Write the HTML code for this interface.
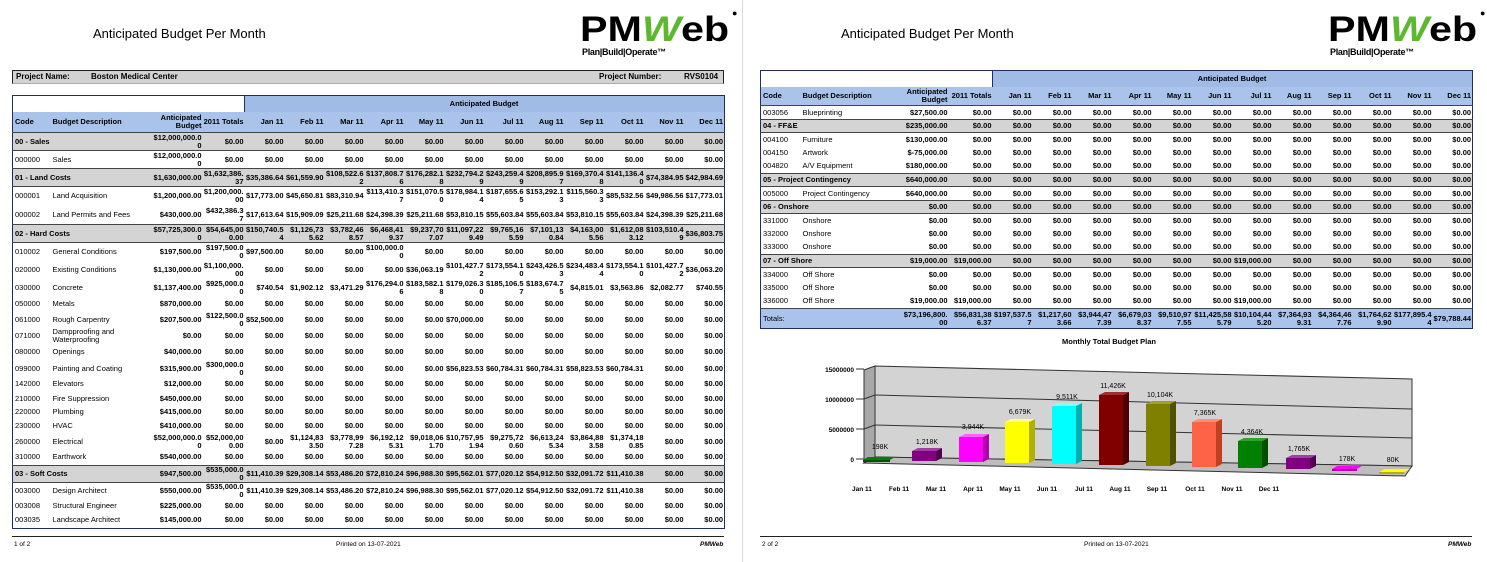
<!DOCTYPE html>
<html><head><meta charset="utf-8">
<style>
*{margin:0;padding:0;box-sizing:border-box}
body{width:1487px;height:562px;background:#fff;position:relative;overflow:hidden;font-family:"Liberation Sans",Arial,sans-serif;color:#000}
.abs{position:absolute;white-space:nowrap}
.title{font-size:13px;top:26px}
.logo{position:absolute;top:8px;width:160px;height:52px}
.logo .big{position:absolute;left:0;top:3px;font:bold 35px/38px "Liberation Sans",sans-serif;letter-spacing:0px;transform:scaleX(1.18);transform-origin:0 0}
.logo .big .w{color:#5cb82e;font-style:italic}
.logo .sub{position:absolute;left:2px;top:39px;font:bold 9px "Liberation Sans",sans-serif;letter-spacing:-0.3px}
.logo .reg{position:absolute;left:152px;top:0;font-size:9px}
.t{position:absolute;border-collapse:collapse;table-layout:fixed;font:bold 7.5px/8px "Liberation Sans",sans-serif;border:1.5px solid #1f2e5e}
.t td{padding:0 1px 0 0;text-align:right;vertical-align:middle;overflow:hidden;word-break:break-all}
.t td.c{text-align:left;font-weight:normal;padding-left:2px}
.t td.d{text-align:left;font-weight:normal;padding-left:2px;word-break:normal}
.t td.l{text-align:left;padding-left:2px;word-break:normal}
.g td{background:#d4d4d4;border-top:1px solid #444;border-bottom:1px solid #444}
.h td{background:#a9c3eb;border-bottom:1px solid #444;word-break:normal}
.hb td.b{background:#a0bbe6;text-align:center;border-left:1px solid #1f2e5e}
.tot td{background:#a9c3eb;border-top:1px solid #444}
.foot{font-size:6.5px;top:541px}
.proj{position:absolute;left:12px;top:70px;width:712px;height:14px;background:#d2d2d2;border:1px solid #222;border-bottom:1px solid #aaa;font:bold 8px/12px "Liberation Sans",sans-serif}
</style></head><body>

<div class="abs title" style="left:93px">Anticipated Budget Per Month</div>
<div class="abs title" style="left:841px">Anticipated Budget Per Month</div>

<div class="logo" style="left:580px"><div class="big">PM<span class="w">W</span>eb</div><div class="sub">Plan|Build|Operate™</div><div class="reg">●</div></div>
<div class="logo" style="left:1328px"><div class="big">PM<span class="w">W</span>eb</div><div class="sub">Plan|Build|Operate™</div><div class="reg">●</div></div>

<div style="position:absolute;left:742px;top:0;width:1px;height:562px;background:#d8d8d8"></div>

<div class="proj"><span class="abs" style="left:3px">Project Name:</span><span class="abs" style="left:78px">Boston Medical Center</span><span class="abs" style="left:586px">Project Number:</span><span class="abs" style="left:671px">RVS0104</span></div>

<table class="t" style="left:12px;top:95px;width:712px">
<colgroup><col style="width:38px"><col style="width:100px"><col style="width:52px"><col style="width:42px"><col span="12" style="width:40px"></colgroup>
<tr class="hb" style="height:16px"><td colspan="4" style="background:#fff"></td><td colspan="12" class="b">Anticipated Budget</td></tr>
<tr class="h" style="height:21px"><td class="l">Code</td><td class="l">Budget Description</td><td>Anticipated Budget</td><td>2011 Totals</td><td>Jan 11</td><td>Feb 11</td><td>Mar 11</td><td>Apr 11</td><td>May 11</td><td>Jun 11</td><td>Jul 11</td><td>Aug 11</td><td>Sep 11</td><td>Oct 11</td><td>Nov 11</td><td>Dec 11</td></tr>
<tr class="g" style="height:18px"><td colspan="2" class="l">00 - Sales</td><td>$12,000,000.00</td><td>$0.00</td><td>$0.00</td><td>$0.00</td><td>$0.00</td><td>$0.00</td><td>$0.00</td><td>$0.00</td><td>$0.00</td><td>$0.00</td><td>$0.00</td><td>$0.00</td><td>$0.00</td><td>$0.00</td></tr>
<tr style="height:18px"><td class="c">000000</td><td class="d">Sales</td><td>$12,000,000.00</td><td>$0.00</td><td>$0.00</td><td>$0.00</td><td>$0.00</td><td>$0.00</td><td>$0.00</td><td>$0.00</td><td>$0.00</td><td>$0.00</td><td>$0.00</td><td>$0.00</td><td>$0.00</td><td>$0.00</td></tr>
<tr class="g" style="height:18px"><td colspan="2" class="l">01 - Land Costs</td><td>$1,630,000.00</td><td>$1,632,386.37</td><td>$35,386.64</td><td>$61,559.90</td><td>$108,522.62</td><td>$137,808.76</td><td>$176,282.18</td><td>$232,794.29</td><td>$243,259.49</td><td>$208,895.97</td><td>$169,370.48</td><td>$141,136.40</td><td>$74,384.95</td><td>$42,984.69</td></tr>
<tr style="height:19px"><td class="c">000001</td><td class="d">Land Acquisition</td><td>$1,200,000.00</td><td>$1,200,000.00</td><td>$17,773.00</td><td>$45,650.81</td><td>$83,310.94</td><td>$113,410.37</td><td>$151,070.50</td><td>$178,984.14</td><td>$187,655.65</td><td>$153,292.13</td><td>$115,560.33</td><td>$85,532.56</td><td>$49,986.56</td><td>$17,773.01</td></tr>
<tr style="height:19px"><td class="c">000002</td><td class="d">Land Permits and Fees</td><td>$430,000.00</td><td>$432,386.37</td><td>$17,613.64</td><td>$15,909.09</td><td>$25,211.68</td><td>$24,398.39</td><td>$25,211.68</td><td>$53,810.15</td><td>$55,603.84</td><td>$55,603.84</td><td>$53,810.15</td><td>$55,603.84</td><td>$24,398.39</td><td>$25,211.68</td></tr>
<tr class="g" style="height:18px"><td colspan="2" class="l">02 - Hard Costs</td><td>$57,725,300.00</td><td>$54,645,000.00</td><td>$150,740.54</td><td>$1,126,735.62</td><td>$3,782,468.57</td><td>$6,468,419.37</td><td>$9,237,707.07</td><td>$11,097,229.49</td><td>$9,765,165.59</td><td>$7,101,130.84</td><td>$4,163,005.56</td><td>$1,612,083.12</td><td>$103,510.49</td><td>$36,803.75</td></tr>
<tr style="height:18px"><td class="c">010002</td><td class="d">General Conditions</td><td>$197,500.00</td><td>$197,500.00</td><td>$97,500.00</td><td>$0.00</td><td>$0.00</td><td>$100,000.00</td><td>$0.00</td><td>$0.00</td><td>$0.00</td><td>$0.00</td><td>$0.00</td><td>$0.00</td><td>$0.00</td><td>$0.00</td></tr>
<tr style="height:19px"><td class="c">020000</td><td class="d">Existing Conditions</td><td>$1,130,000.00</td><td>$1,100,000.00</td><td>$0.00</td><td>$0.00</td><td>$0.00</td><td>$0.00</td><td>$36,063.19</td><td>$101,427.72</td><td>$173,554.10</td><td>$243,426.53</td><td>$234,483.44</td><td>$173,554.10</td><td>$101,427.72</td><td>$36,063.20</td></tr>
<tr style="height:17px"><td class="c">030000</td><td class="d">Concrete</td><td>$1,137,400.00</td><td>$925,000.00</td><td>$740.54</td><td>$1,902.12</td><td>$3,471.29</td><td>$176,294.06</td><td>$183,582.18</td><td>$179,026.30</td><td>$185,106.57</td><td>$183,674.75</td><td>$4,815.01</td><td>$3,563.86</td><td>$2,082.77</td><td>$740.55</td></tr>
<tr style="height:15px"><td class="c">050000</td><td class="d">Metals</td><td>$870,000.00</td><td>$0.00</td><td>$0.00</td><td>$0.00</td><td>$0.00</td><td>$0.00</td><td>$0.00</td><td>$0.00</td><td>$0.00</td><td>$0.00</td><td>$0.00</td><td>$0.00</td><td>$0.00</td><td>$0.00</td></tr>
<tr style="height:15px"><td class="c">061000</td><td class="d">Rough Carpentry</td><td>$207,500.00</td><td>$122,500.00</td><td>$52,500.00</td><td>$0.00</td><td>$0.00</td><td>$0.00</td><td>$0.00</td><td>$70,000.00</td><td>$0.00</td><td>$0.00</td><td>$0.00</td><td>$0.00</td><td>$0.00</td><td>$0.00</td></tr>
<tr style="height:16px"><td class="c">071000</td><td class="d">Dampproofing and Waterproofing</td><td>$0.00</td><td>$0.00</td><td>$0.00</td><td>$0.00</td><td>$0.00</td><td>$0.00</td><td>$0.00</td><td>$0.00</td><td>$0.00</td><td>$0.00</td><td>$0.00</td><td>$0.00</td><td>$0.00</td><td>$0.00</td></tr>
<tr style="height:17px"><td class="c">080000</td><td class="d">Openings</td><td>$40,000.00</td><td>$0.00</td><td>$0.00</td><td>$0.00</td><td>$0.00</td><td>$0.00</td><td>$0.00</td><td>$0.00</td><td>$0.00</td><td>$0.00</td><td>$0.00</td><td>$0.00</td><td>$0.00</td><td>$0.00</td></tr>
<tr style="height:16px"><td class="c">099000</td><td class="d">Painting and Coating</td><td>$315,900.00</td><td>$300,000.00</td><td>$0.00</td><td>$0.00</td><td>$0.00</td><td>$0.00</td><td>$0.00</td><td>$56,823.53</td><td>$60,784.31</td><td>$60,784.31</td><td>$58,823.53</td><td>$60,784.31</td><td>$0.00</td><td>$0.00</td></tr>
<tr style="height:15px"><td class="c">142000</td><td class="d">Elevators</td><td>$12,000.00</td><td>$0.00</td><td>$0.00</td><td>$0.00</td><td>$0.00</td><td>$0.00</td><td>$0.00</td><td>$0.00</td><td>$0.00</td><td>$0.00</td><td>$0.00</td><td>$0.00</td><td>$0.00</td><td>$0.00</td></tr>
<tr style="height:14px"><td class="c">210000</td><td class="d">Fire Suppression</td><td>$450,000.00</td><td>$0.00</td><td>$0.00</td><td>$0.00</td><td>$0.00</td><td>$0.00</td><td>$0.00</td><td>$0.00</td><td>$0.00</td><td>$0.00</td><td>$0.00</td><td>$0.00</td><td>$0.00</td><td>$0.00</td></tr>
<tr style="height:13px"><td class="c">220000</td><td class="d">Plumbing</td><td>$415,000.00</td><td>$0.00</td><td>$0.00</td><td>$0.00</td><td>$0.00</td><td>$0.00</td><td>$0.00</td><td>$0.00</td><td>$0.00</td><td>$0.00</td><td>$0.00</td><td>$0.00</td><td>$0.00</td><td>$0.00</td></tr>
<tr style="height:15px"><td class="c">230000</td><td class="d">HVAC</td><td>$410,000.00</td><td>$0.00</td><td>$0.00</td><td>$0.00</td><td>$0.00</td><td>$0.00</td><td>$0.00</td><td>$0.00</td><td>$0.00</td><td>$0.00</td><td>$0.00</td><td>$0.00</td><td>$0.00</td><td>$0.00</td></tr>
<tr style="height:16px"><td class="c">260000</td><td class="d">Electrical</td><td>$52,000,000.00</td><td>$52,000,000.00</td><td>$0.00</td><td>$1,124,833.50</td><td>$3,778,997.28</td><td>$6,192,125.31</td><td>$9,018,061.70</td><td>$10,757,951.94</td><td>$9,275,720.60</td><td>$6,613,245.34</td><td>$3,864,883.58</td><td>$1,374,180.85</td><td>$0.00</td><td>$0.00</td></tr>
<tr style="height:16px"><td class="c">310000</td><td class="d">Earthwork</td><td>$540,000.00</td><td>$0.00</td><td>$0.00</td><td>$0.00</td><td>$0.00</td><td>$0.00</td><td>$0.00</td><td>$0.00</td><td>$0.00</td><td>$0.00</td><td>$0.00</td><td>$0.00</td><td>$0.00</td><td>$0.00</td></tr>
<tr class="g" style="height:17px"><td colspan="2" class="l">03 - Soft Costs</td><td>$947,500.00</td><td>$535,000.00</td><td>$11,410.39</td><td>$29,308.14</td><td>$53,486.20</td><td>$72,810.24</td><td>$96,988.30</td><td>$95,562.01</td><td>$77,020.12</td><td>$54,912.50</td><td>$32,091.72</td><td>$11,410.38</td><td>$0.00</td><td>$0.00</td></tr>
<tr style="height:16px"><td class="c">003000</td><td class="d">Design Architect</td><td>$550,000.00</td><td>$535,000.00</td><td>$11,410.39</td><td>$29,308.14</td><td>$53,486.20</td><td>$72,810.24</td><td>$96,988.30</td><td>$95,562.01</td><td>$77,020.12</td><td>$54,912.50</td><td>$32,091.72</td><td>$11,410.38</td><td>$0.00</td><td>$0.00</td></tr>
<tr style="height:14px"><td class="c">003008</td><td class="d">Structural Engineer</td><td>$225,000.00</td><td>$0.00</td><td>$0.00</td><td>$0.00</td><td>$0.00</td><td>$0.00</td><td>$0.00</td><td>$0.00</td><td>$0.00</td><td>$0.00</td><td>$0.00</td><td>$0.00</td><td>$0.00</td><td>$0.00</td></tr>
<tr style="height:15px"><td class="c">003035</td><td class="d">Landscape Architect</td><td>$145,000.00</td><td>$0.00</td><td>$0.00</td><td>$0.00</td><td>$0.00</td><td>$0.00</td><td>$0.00</td><td>$0.00</td><td>$0.00</td><td>$0.00</td><td>$0.00</td><td>$0.00</td><td>$0.00</td><td>$0.00</td></tr>
</table>

<table class="t" style="left:760px;top:70px;width:712px">
<colgroup><col style="width:40px"><col style="width:100px"><col style="width:48px"><col style="width:44px"><col span="12" style="width:40px"></colgroup>
<tr class="hb" style="height:16px"><td colspan="4" style="background:#fff"></td><td colspan="12" class="b">Anticipated Budget</td></tr>
<tr class="h" style="height:19px"><td class="l">Code</td><td class="l">Budget Description</td><td>Anticipated Budget</td><td>2011 Totals</td><td>Jan 11</td><td>Feb 11</td><td>Mar 11</td><td>Apr 11</td><td>May 11</td><td>Jun 11</td><td>Jul 11</td><td>Aug 11</td><td>Sep 11</td><td>Oct 11</td><td>Nov 11</td><td>Dec 11</td></tr>
<tr style="height:14px"><td class="c">003056</td><td class="d">Blueprinting</td><td>$27,500.00</td><td>$0.00</td><td>$0.00</td><td>$0.00</td><td>$0.00</td><td>$0.00</td><td>$0.00</td><td>$0.00</td><td>$0.00</td><td>$0.00</td><td>$0.00</td><td>$0.00</td><td>$0.00</td><td>$0.00</td></tr>
<tr class="g" style="height:13px"><td colspan="2" class="l">04 - FF&amp;E</td><td>$235,000.00</td><td>$0.00</td><td>$0.00</td><td>$0.00</td><td>$0.00</td><td>$0.00</td><td>$0.00</td><td>$0.00</td><td>$0.00</td><td>$0.00</td><td>$0.00</td><td>$0.00</td><td>$0.00</td><td>$0.00</td></tr>
<tr style="height:14px"><td class="c">004100</td><td class="d">Furniture</td><td>$130,000.00</td><td>$0.00</td><td>$0.00</td><td>$0.00</td><td>$0.00</td><td>$0.00</td><td>$0.00</td><td>$0.00</td><td>$0.00</td><td>$0.00</td><td>$0.00</td><td>$0.00</td><td>$0.00</td><td>$0.00</td></tr>
<tr style="height:13px"><td class="c">004150</td><td class="d">Artwork</td><td>$-75,000.00</td><td>$0.00</td><td>$0.00</td><td>$0.00</td><td>$0.00</td><td>$0.00</td><td>$0.00</td><td>$0.00</td><td>$0.00</td><td>$0.00</td><td>$0.00</td><td>$0.00</td><td>$0.00</td><td>$0.00</td></tr>
<tr style="height:14px"><td class="c">004820</td><td class="d">A/V Equipment</td><td>$180,000.00</td><td>$0.00</td><td>$0.00</td><td>$0.00</td><td>$0.00</td><td>$0.00</td><td>$0.00</td><td>$0.00</td><td>$0.00</td><td>$0.00</td><td>$0.00</td><td>$0.00</td><td>$0.00</td><td>$0.00</td></tr>
<tr class="g" style="height:13px"><td colspan="2" class="l">05 - Project Contingency</td><td>$640,000.00</td><td>$0.00</td><td>$0.00</td><td>$0.00</td><td>$0.00</td><td>$0.00</td><td>$0.00</td><td>$0.00</td><td>$0.00</td><td>$0.00</td><td>$0.00</td><td>$0.00</td><td>$0.00</td><td>$0.00</td></tr>
<tr style="height:14px"><td class="c">005000</td><td class="d">Project Contingency</td><td>$640,000.00</td><td>$0.00</td><td>$0.00</td><td>$0.00</td><td>$0.00</td><td>$0.00</td><td>$0.00</td><td>$0.00</td><td>$0.00</td><td>$0.00</td><td>$0.00</td><td>$0.00</td><td>$0.00</td><td>$0.00</td></tr>
<tr class="g" style="height:13px"><td colspan="2" class="l">06 - Onshore</td><td>$0.00</td><td>$0.00</td><td>$0.00</td><td>$0.00</td><td>$0.00</td><td>$0.00</td><td>$0.00</td><td>$0.00</td><td>$0.00</td><td>$0.00</td><td>$0.00</td><td>$0.00</td><td>$0.00</td><td>$0.00</td></tr>
<tr style="height:14px"><td class="c">331000</td><td class="d">Onshore</td><td>$0.00</td><td>$0.00</td><td>$0.00</td><td>$0.00</td><td>$0.00</td><td>$0.00</td><td>$0.00</td><td>$0.00</td><td>$0.00</td><td>$0.00</td><td>$0.00</td><td>$0.00</td><td>$0.00</td><td>$0.00</td></tr>
<tr style="height:13px"><td class="c">332000</td><td class="d">Onshore</td><td>$0.00</td><td>$0.00</td><td>$0.00</td><td>$0.00</td><td>$0.00</td><td>$0.00</td><td>$0.00</td><td>$0.00</td><td>$0.00</td><td>$0.00</td><td>$0.00</td><td>$0.00</td><td>$0.00</td><td>$0.00</td></tr>
<tr style="height:14px"><td class="c">333000</td><td class="d">Onshore</td><td>$0.00</td><td>$0.00</td><td>$0.00</td><td>$0.00</td><td>$0.00</td><td>$0.00</td><td>$0.00</td><td>$0.00</td><td>$0.00</td><td>$0.00</td><td>$0.00</td><td>$0.00</td><td>$0.00</td><td>$0.00</td></tr>
<tr class="g" style="height:13px"><td colspan="2" class="l">07 - Off Shore</td><td>$19,000.00</td><td>$19,000.00</td><td>$0.00</td><td>$0.00</td><td>$0.00</td><td>$0.00</td><td>$0.00</td><td>$0.00</td><td>$19,000.00</td><td>$0.00</td><td>$0.00</td><td>$0.00</td><td>$0.00</td><td>$0.00</td></tr>
<tr style="height:14px"><td class="c">334000</td><td class="d">Off Shore</td><td>$0.00</td><td>$0.00</td><td>$0.00</td><td>$0.00</td><td>$0.00</td><td>$0.00</td><td>$0.00</td><td>$0.00</td><td>$0.00</td><td>$0.00</td><td>$0.00</td><td>$0.00</td><td>$0.00</td><td>$0.00</td></tr>
<tr style="height:13px"><td class="c">335000</td><td class="d">Off Shore</td><td>$0.00</td><td>$0.00</td><td>$0.00</td><td>$0.00</td><td>$0.00</td><td>$0.00</td><td>$0.00</td><td>$0.00</td><td>$0.00</td><td>$0.00</td><td>$0.00</td><td>$0.00</td><td>$0.00</td><td>$0.00</td></tr>
<tr style="height:14px"><td class="c">336000</td><td class="d">Off Shore</td><td>$19,000.00</td><td>$19,000.00</td><td>$0.00</td><td>$0.00</td><td>$0.00</td><td>$0.00</td><td>$0.00</td><td>$0.00</td><td>$19,000.00</td><td>$0.00</td><td>$0.00</td><td>$0.00</td><td>$0.00</td><td>$0.00</td></tr>
<tr class="tot" style="height:20px"><td colspan="2" class="l" style="font-weight:normal">Totals:</td><td>$73,196,800.00</td><td>$56,831,386.37</td><td>$197,537.57</td><td>$1,217,603.66</td><td>$3,944,477.39</td><td>$6,679,038.37</td><td>$9,510,977.55</td><td>$11,425,585.79</td><td>$10,104,445.20</td><td>$7,364,939.31</td><td>$4,364,467.76</td><td>$1,764,629.90</td><td>$177,895.44</td><td>$79,788.44</td></tr>
</table>

<svg style="position:absolute;left:0;top:0" width="1487" height="562" font-family="Liberation Sans, sans-serif">
<text x="1109" y="344" font-size="7.5" font-weight="bold" text-anchor="middle">Monthly Total Budget Plan</text>
<polygon points="875,366 1412,379 1412,466 875,457" fill="#d3d3d3" stroke="#333" stroke-width="1"/>
<polygon points="864,370 875,366 875,457 864,463" fill="#a8a8a8" stroke="#333" stroke-width="1"/>
<polygon points="864,463 875,457 1412,466 1405,476" fill="#bdbdbd" stroke="#333" stroke-width="1"/>
<line x1="864" y1="399" x2="875" y2="395" stroke="#333"/><line x1="875" y1="395" x2="1412" y2="409" stroke="#333"/>
<line x1="864" y1="429" x2="875" y2="425" stroke="#333"/><line x1="875" y1="425" x2="1412" y2="438" stroke="#333"/>
<g stroke="#333"><line x1="856" y1="369" x2="864" y2="369"/><line x1="856" y1="399" x2="864" y2="399"/><line x1="856" y1="429" x2="864" y2="429"/><line x1="856" y1="459" x2="864" y2="459"/></g>
<g font-size="6.5" font-weight="bold" text-anchor="end"><text x="854" y="372">15000000</text><text x="854" y="402">10000000</text><text x="854" y="432">5000000</text><text x="854" y="462">0</text></g>
<g>
<polygon points="863,460 890,460 895,457 868,457" fill="#008000"/><polygon points="863,460 890,460 890,462 863,462" fill="#005000"/>
<rect x="912" y="451" width="24" height="10" fill="#800080"/><polygon points="936,451 942,448 942,458 936,461" fill="#500050"/><polygon points="912,451 918,448 942,448 936,451" fill="#a040a0"/>
<rect x="959" y="437" width="24" height="25" fill="#ff00ff"/><polygon points="983,437 989,434 989,459 983,462" fill="#b000b0"/><polygon points="959,437 965,434 989,434 983,437" fill="#ff60ff"/>
<rect x="1005" y="422" width="24" height="41" fill="#ffff00"/><polygon points="1029,422 1035,419 1035,460 1029,463" fill="#b0b000"/><polygon points="1005,422 1011,419 1035,419 1029,422" fill="#ffff80"/>
<rect x="1052" y="406" width="24" height="58" fill="#00ffff"/><polygon points="1076,406 1082,403 1082,461 1076,464" fill="#00b0b0"/><polygon points="1052,406 1058,403 1082,403 1076,406" fill="#80ffff"/>
<rect x="1099" y="395" width="24" height="70" fill="#800000"/><polygon points="1123,395 1129,392 1129,462 1123,465" fill="#500000"/><polygon points="1099,395 1105,392 1129,392 1123,395" fill="#a03030"/>
<rect x="1146" y="404" width="24" height="62" fill="#808000"/><polygon points="1170,404 1176,401 1176,463 1170,466" fill="#505000"/><polygon points="1146,404 1152,401 1176,401 1170,404" fill="#a0a030"/>
<rect x="1192" y="422" width="24" height="45" fill="#ff6347"/><polygon points="1216,422 1222,419 1222,464 1216,467" fill="#c04020"/><polygon points="1192,422 1198,419 1222,419 1216,422" fill="#ff9070"/>
<rect x="1238" y="441" width="24" height="27" fill="#008000"/><polygon points="1262,441 1268,438 1268,465 1262,468" fill="#005000"/><polygon points="1238,441 1244,438 1268,438 1262,441" fill="#30a030"/>
<rect x="1286" y="458" width="24" height="11" fill="#800080"/><polygon points="1310,458 1316,455 1316,466 1310,469" fill="#500050"/><polygon points="1286,458 1292,455 1316,455 1310,458" fill="#a040a0"/>
<polygon points="1332,469 1357,469 1362,466 1337,466" fill="#ff00ff"/><rect x="1332" y="469" width="25" height="2" fill="#b000b0"/>
<polygon points="1379,472 1404,472 1410,469 1385,469" fill="#ffff00"/><rect x="1379" y="472" width="25" height="2" fill="#b0b000"/>
</g>
<g font-size="7" text-anchor="middle"><text x="880" y="449">198K</text><text x="927" y="444">1,218K</text><text x="973" y="429">3,944K</text><text x="1020" y="414">6,679K</text><text x="1067" y="399">9,511K</text><text x="1113" y="388">11,426K</text><text x="1160" y="397">10,104K</text><text x="1205" y="415">7,365K</text><text x="1252" y="434">4,364K</text><text x="1299" y="451">1,765K</text><text x="1347" y="461">178K</text><text x="1393" y="462">80K</text></g>
<g font-size="6.5" font-weight="bold" text-anchor="middle"><text x="862" y="491">Jan 11</text><text x="899" y="491">Feb 11</text><text x="936" y="491">Mar 11</text><text x="973" y="491">Apr 11</text><text x="1010" y="491">May 11</text><text x="1047" y="491">Jun 11</text><text x="1084" y="491">Jul 11</text><text x="1120" y="491">Aug 11</text><text x="1157" y="491">Sep 11</text><text x="1195" y="491">Oct 11</text><text x="1232" y="491">Nov 11</text><text x="1269" y="491">Dec 11</text></g>
<line x1="12" y1="536.5" x2="724" y2="536.5" stroke="#222"/>
<line x1="760" y1="536.5" x2="1472" y2="536.5" stroke="#222"/>
</svg>

<div class="abs foot" style="left:14px">1 of 2</div>
<div class="abs foot" style="left:336px">Printed on 13-07-2021</div>
<div class="abs foot" style="left:700px;font-style:italic;font-weight:bold">PMWeb</div>
<div class="abs foot" style="left:762px">2 of 2</div>
<div class="abs foot" style="left:1084px">Printed on 13-07-2021</div>
<div class="abs foot" style="left:1448px;font-style:italic;font-weight:bold">PMWeb</div>
</body></html>
